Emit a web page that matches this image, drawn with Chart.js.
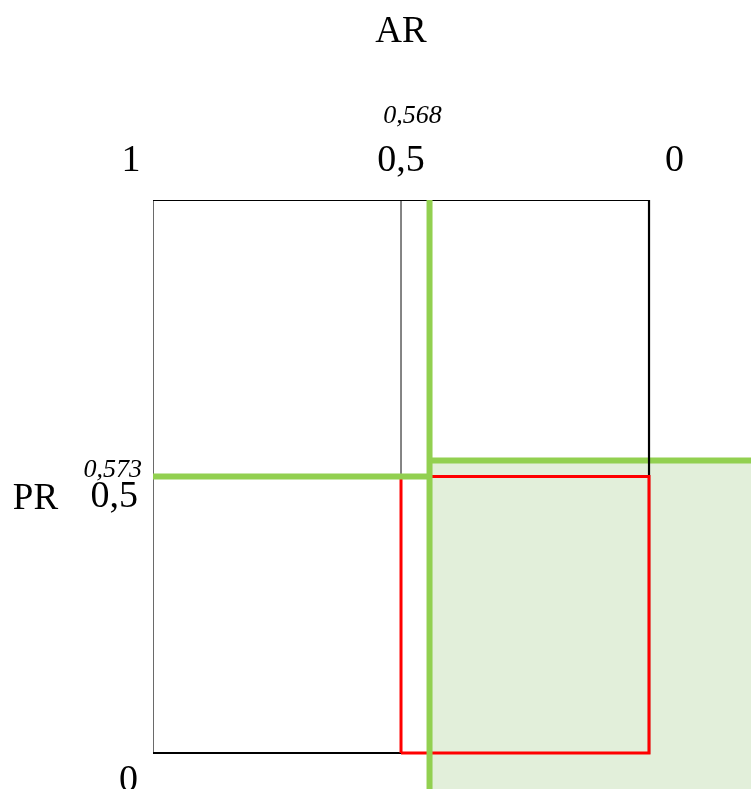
<!DOCTYPE html>
<html><head><meta charset="utf-8">
<script src="https://cdn.jsdelivr.net/npm/chart.js@4.4.1/dist/chart.umd.min.js"></script>
<style>html,body{margin:0;padding:0;background:#fff}#wrap{width:751px;height:789px;position:relative}</style>
</head><body><div id="wrap"><canvas id="c"></canvas></div>
<script>
// ---- data ----
const axisTitleX = 'AR';
const axisTitleY = 'PR';
const xTickValues = [1, 0.5, 0];
const xTickLabels = ['1', '0,5', '0'];
const yTickValues = [0.5, 0];
const yTickLabels = ['0,5', '0'];
const cutAR = 0.4425;      // green vertical line (AR threshold)
const cutPRLeft = 0.5;     // green horizontal, left part
const cutPRRight = 0.529;  // green horizontal, right part
const cutARText = '0,568';
const cutPRText = '0,573';
const squareTopRightBottom = [{x:1,y:1},{x:0,y:1},{x:0,y:0},{x:1,y:0}];
const squareLeft = [{x:1,y:0},{x:1,y:1}];
const midVertical = [{x:0.5,y:0.5},{x:0.5,y:1}];
const redRect = [{x:0.5,y:0},{x:0.5,y:0.5},{x:0,y:0.5},{x:0,y:0},{x:0.5,y:0}];
const greenVertical = [{x:cutAR,y:1},{x:cutAR,y:-0.1}];
const greenLeft = [{x:1,y:cutPRLeft},{x:cutAR,y:cutPRLeft}];
const greenRight = [{x:cutAR,y:cutPRRight},{x:-0.3,y:cutPRRight}];
const greenZone = [{x:cutAR,y:cutPRRight},{x:-0.3,y:cutPRRight},{x:-0.3,y:-0.2},{x:cutAR,y:-0.2},{x:cutAR,y:cutPRRight}];

const GREEN = '#92d050';

const textPlugin = {
  id: 'texts',
  afterDraw(chart) {
    const ctx = chart.ctx, xs = chart.scales.x, ys = chart.scales.y, a = chart.chartArea;
    ctx.save();
    ctx.fillStyle = '#000';
    ctx.textBaseline = 'alphabetic';
    // axis titles
    ctx.font = '37px "Liberation Serif"';
    ctx.textAlign = 'center';
    ctx.fillText(axisTitleX, xs.getPixelForValue(0.5), a.top - 158);
    ctx.fillText(axisTitleY, a.left - 117.5, ys.getPixelForValue(0.5) + 32.5);
    // x ticks
    ctx.font = '38px "Liberation Serif"';
    const xdx = [-22, 0, 25.5];
    xTickValues.forEach((v, i) => {
      ctx.fillText(xTickLabels[i], xs.getPixelForValue(v) + xdx[i], a.top - 29);
    });
    // y ticks
    ctx.textAlign = 'right';
    const ydy = [30.5, 38];
    yTickValues.forEach((v, i) => {
      ctx.fillText(yTickLabels[i], a.left - 15, ys.getPixelForValue(v) + ydy[i]);
    });
    // threshold labels
    ctx.font = 'italic 26px "Liberation Serif"';
    ctx.textAlign = 'center';
    ctx.fillText(cutARText, xs.getPixelForValue(cutAR) - 17, a.top - 77);
    ctx.textAlign = 'right';
    ctx.fillText(cutPRText, a.left - 11, ys.getPixelForValue(cutPRLeft) + 0.5);
    ctx.restore();
  }
};

const line = (data, color, width, order, extra) => Object.assign({
  data, borderColor: color, borderWidth: width, showLine: true, pointRadius: 0,
  pointHoverRadius: 0, fill: false, order, tension: 0
}, extra || {});

new Chart(document.getElementById('c'), {
  type: 'scatter',
  data: {
    datasets: [
      line(greenVertical, GREEN, 6, 1, {borderCapStyle: 'butt'}),
      line(greenLeft, GREEN, 6, 1),
      line(redRect, '#ff0000', 3, 2),
      line(squareTopRightBottom, '#000', 2.2, 3),
      line(squareLeft, '#444', 1.6, 3),
      line(midVertical, '#333', 1.2, 3),
      line(greenRight, GREEN, 6, 4),
      line(greenZone, 'rgba(0,0,0,0)', 0, 5, {fill: 'shape', backgroundColor: '#e2efda'})
    ]
  },
  options: {
    responsive: true,
    maintainAspectRatio: false,
    animation: false,
    layout: {padding: {left: 153, top: 200, right: 0, bottom: 0}},
    plugins: {legend: {display: false}, tooltip: {enabled: false}, title: {display: false}},
    scales: {
      x: {type: 'linear', min: -0.2056, max: 1, reverse: true, display: false},
      y: {type: 'linear', min: -0.0651, max: 1, display: false}
    }
  },
  plugins: [textPlugin]
});
</script>
</body></html>
